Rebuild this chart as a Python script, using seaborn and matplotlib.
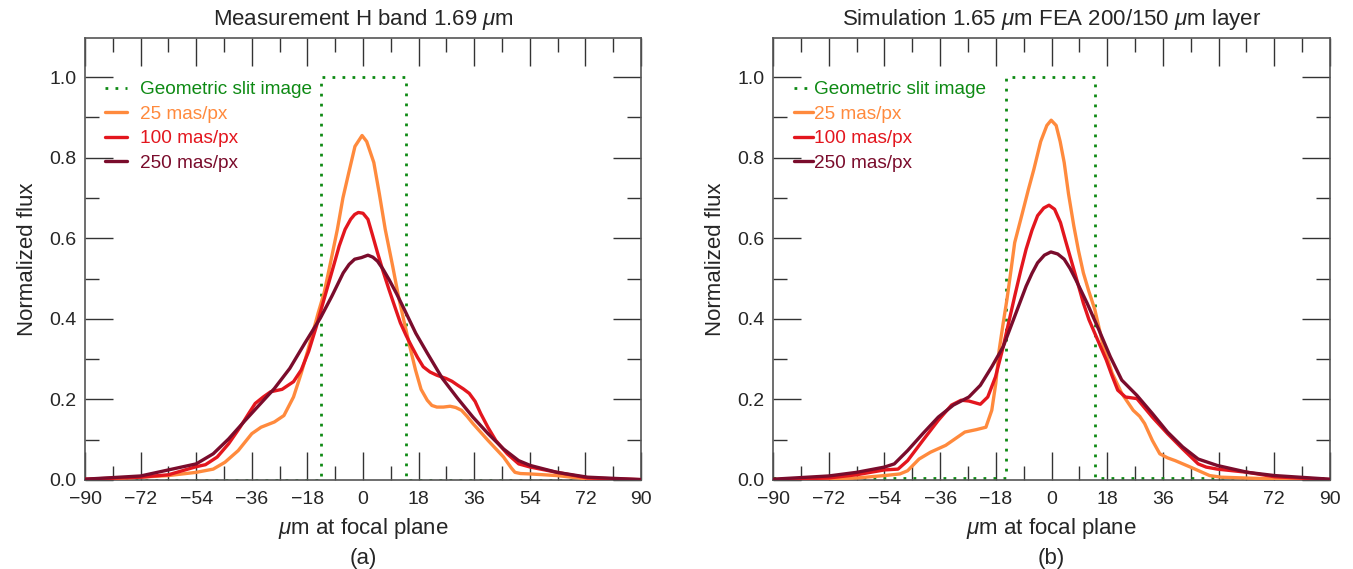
import numpy as np
import pandas as pd
import matplotlib
matplotlib.use("Agg")
import matplotlib.pyplot as plt
import seaborn as sns
from matplotlib.ticker import MultipleLocator

sns.set_style("ticks")
plt.rcParams['font.family'] = ['Liberation Sans', 'DejaVu Sans']
plt.rcParams['mathtext.fontset'] = 'custom'
plt.rcParams['mathtext.it'] = 'Liberation Sans:italic'
plt.rcParams['mathtext.rm'] = 'Liberation Sans'

# ---------------- data (panel a: measurement) ----------------
a_x25 = [-90, -72, -63, -54, -48.5, -44.7, -40.4, -36, -33, -28.7, -25.6, -22.5, -20, -18, -16.3, -14.5, -12.6, -10.5,
         -8.3, -6.5, -4.6, -2.6, -0.3, 1.2, 3.5, 5.3, 7.2, 9.6, 11.5, 13.4, 15.2, 17, 18.8, 20.8, 22.3, 23.9, 26,
         28.2, 30, 31.9, 33.7, 35.6, 40.5, 45.5, 48, 49.2, 51, 54.2, 62.8, 72.7, 90]
a_y25 = [0.0, 0.007, 0.011, 0.019, 0.027, 0.044, 0.073, 0.115, 0.131, 0.144, 0.16, 0.206, 0.265, 0.318, 0.364, 0.415,
         0.464, 0.54, 0.622, 0.70, 0.763, 0.828, 0.855, 0.84, 0.788, 0.71, 0.622, 0.531, 0.455, 0.39, 0.33, 0.273,
         0.225, 0.198, 0.185, 0.181, 0.181, 0.183, 0.18, 0.173, 0.158, 0.14, 0.098, 0.057, 0.03, 0.019, 0.016, 0.015,
         0.011, 0.0025, 0.0]
a_x100 = [-90, -72, -63, -54, -51, -47.2, -43.5, -39.8, -37, -34.9, -32.3, -29.9, -26.2, -22.5, -20, -17.6, -15.1,
          -13.3, -11.4, -9.5, -7.7, -5.8, -4, -2.7, -1.5, 0, 1.6, 3, 4.7, 6.5, 8.4, 10.3, 12.1, 14, 15.8, 17.6, 19.5,
          21.7, 23.9, 26.9, 28.8, 30.7, 32.5, 34.4, 36.3, 38.1, 40.5, 43, 46.7, 50.4, 54.2, 62.8, 72.7, 90]
a_y100 = [0.002, 0.007, 0.013, 0.033, 0.038, 0.057, 0.09, 0.131, 0.165, 0.19, 0.206, 0.219, 0.225, 0.244, 0.273, 0.319,
          0.381, 0.43, 0.481, 0.532, 0.581, 0.622, 0.647, 0.659, 0.664, 0.662, 0.647, 0.61, 0.564, 0.518, 0.473, 0.43,
          0.39, 0.358, 0.331, 0.305, 0.281, 0.268, 0.26, 0.252, 0.245, 0.235, 0.226, 0.215, 0.195, 0.165, 0.13, 0.098,
          0.065, 0.04, 0.032, 0.019, 0.005, 0.001]
a_x250 = [-90, -72, -63, -54, -48.5, -43.5, -38.6, -33.6, -28.7, -23.7, -18.8, -13.8, -10.1, -6.4, -4.5, -2.7, -0.5,
          1.6, 3.2, 4.7, 6.5, 8.4, 10.9, 13.4, 17.1, 20.8, 25.7, 30.7, 35.6, 40.5, 45.5, 50.4, 54.2, 62.8, 72.7, 90]
a_y250 = [0.002, 0.01, 0.025, 0.04, 0.065, 0.102, 0.144, 0.186, 0.227, 0.277, 0.34, 0.402, 0.456, 0.514, 0.535, 0.548,
          0.552, 0.558, 0.553, 0.543, 0.523, 0.498, 0.462, 0.423, 0.364, 0.315, 0.252, 0.202, 0.156, 0.115, 0.077,
          0.048, 0.036, 0.019, 0.007, 0.001]
a_slit_x = [-90, -13.75, -13.75, 13.9, 13.9, 90]
a_slit_y = [0.0, 0.0, 1.0, 1.0, 0.0, 0.0]

# ---------------- data (panel b: simulation) ----------------
b_x25 = [-90, -72, -63, -54, -49, -46.5, -42.8, -39.1, -34.2, -28, -24.3, -21.2, -19.3, -18, -16.9, -15.6, -14.4,
         -13.1, -11.9, -9.5, -7.5, -5.7, -3.5, -1.5, -0.1, 1.5, 2.8, 4.1, 5.5, 7.2, 8.7, 10.3, 12, 14, 16.5, 19.6,
         22.7, 26.4, 28.5, 30.1, 32.6, 35, 37.5, 40, 44.9, 51.1, 54.8, 72.1, 90]
b_y25 = [0.0, 0.0025, 0.005, 0.011, 0.015, 0.023, 0.052, 0.069, 0.086, 0.119, 0.125, 0.131, 0.173, 0.24, 0.323, 0.39,
         0.448, 0.52, 0.589, 0.66, 0.72, 0.771, 0.84, 0.88, 0.893, 0.88, 0.84, 0.788, 0.71, 0.631, 0.57, 0.514, 0.47,
         0.423, 0.34, 0.265, 0.215, 0.173, 0.158, 0.14, 0.098, 0.065, 0.055, 0.048, 0.032, 0.011, 0.007, 0.0025, 0.0]
b_x100 = [-90, -72, -63, -54, -49.6, -46.5, -41.6, -36.6, -32.3, -29.2, -26.7, -23, -20.6, -18.1, -15.6, -13.8,
          -11.9, -10, -8.2, -6.3, -4.5, -2.5, -0.8, 1, 2.9, 4.5, 6.6, 8.5, 10.3, 12.1, 14, 15.9, 17.7, 19.5, 21.4,
          23.9, 27.6, 30, 32.6, 37.5, 42.4, 47.4, 50, 53.6, 63.4, 72.1, 90]
b_y100 = [0.001, 0.005, 0.013, 0.025, 0.027, 0.048, 0.098, 0.148, 0.186, 0.198, 0.196, 0.188, 0.206, 0.256, 0.331,
          0.392, 0.456, 0.518, 0.573, 0.62, 0.656, 0.675, 0.682, 0.672, 0.639, 0.595, 0.539, 0.488, 0.439, 0.398,
          0.364, 0.33, 0.298, 0.26, 0.223, 0.206, 0.202, 0.18, 0.156, 0.115, 0.077, 0.04, 0.032, 0.027, 0.019,
          0.008, 0.001]
b_x250 = [-90, -72, -63, -54, -50.8, -46.5, -41.6, -36.6, -31.7, -26.7, -23, -19.3, -15.6, -11.9, -8.2, -6.3, -4.5,
          -2.3, -0.2, 2, 4.1, 6, 7.8, 11.5, 15.3, 19, 22.7, 27.6, 32.6, 37.5, 42.4, 47.4, 53.6, 63.4, 72.1, 90]
b_y250 = [0.002, 0.01, 0.019, 0.032, 0.04, 0.073, 0.115, 0.156, 0.186, 0.206, 0.235, 0.281, 0.331, 0.406, 0.481,
          0.513, 0.539, 0.558, 0.566, 0.561, 0.548, 0.525, 0.498, 0.439, 0.373, 0.306, 0.248, 0.21, 0.165, 0.119,
          0.082, 0.052, 0.036, 0.019, 0.011, 0.002]
b_slit_x = [-90, -14.8, -14.8, 14.1, 14.1, 90]
b_slit_y = [0.004, 0.004, 1.0, 1.0, 0.004, 0.004]

labels = ["25 mas/px", "100 mas/px", "250 mas/px"]
slit_label = "Geometric slit image"
titles = [r"Measurement H band 1.69 $\mu$m", r"Simulation 1.65 $\mu$m FEA 200/150 $\mu$m layer"]
panel_tags = ["(a)", "(b)"]
xticks = [-90, -72, -54, -36, -18, 0, 18, 36, 54, 72, 90]

colors = {"25 mas/px": "#FF8A3D", "100 mas/px": "#E3161E", "250 mas/px": "#7A0C2C"}
green = "#0E8A14"

def make_df(xs, ys):
    frames = []
    for lab, x, y in zip(labels, xs, ys):
        frames.append(pd.DataFrame({"x": x, "y": y, "series": lab}))
    return pd.concat(frames, ignore_index=True)

panels = [
    (make_df([a_x25, a_x100, a_x250], [a_y25, a_y100, a_y250]), a_slit_x, a_slit_y),
    (make_df([b_x25, b_x100, b_x250], [b_y25, b_y100, b_y250]), b_slit_x, b_slit_y),
]

fig = plt.figure(figsize=(13.53, 5.69), dpi=100)
W, H = 1353, 569
ax_boxes = [(85, 38, 641, 480), (773, 38, 1330, 480)]

for i, ((df, sx, sy), box) in enumerate(zip(panels, ax_boxes)):
    l, t, r, b = box
    ax = fig.add_axes([l / W, 1 - b / H, (r - l) / W, (b - t) / H])
    ax.plot(sx, sy, color=green, linestyle=(0, (1, 2.6)), linewidth=2.0, label=slit_label, zorder=2)
    sns.lineplot(data=df, x="x", y="y", hue="series", hue_order=labels, palette=colors,
                 linewidth=2.4, ax=ax, sort=False, legend=False, zorder=3)
    for ln in ax.lines[1:]:
        ln.set_solid_joinstyle("round")
    for lab in labels:
        ax.plot([], [], color=colors[lab], linewidth=2.4, label=lab)
    ax.set_xlim(-90, 90)
    ax.set_ylim(0, 1.097)
    ax.set_xticks(xticks)
    ax.xaxis.set_minor_locator(MultipleLocator(9))
    ax.set_yticks([0, 0.2, 0.4, 0.6, 0.8, 1.0])
    ax.set_yticklabels(["0.0", "0.2", "0.4", "0.6", "0.8", "1.0"])
    ax.yaxis.set_minor_locator(MultipleLocator(0.1))
    ax.tick_params(which="both", direction="in", top=True, right=True, color="#333333", width=1.0,
                   labelsize=14, pad=6)
    ax.tick_params(which="major", length=20)
    ax.tick_params(which="minor", length=10)
    ax.tick_params(axis="x", which="major", pad=8)
    for sp in ax.spines.values():
        sp.set_color("#555555")
        sp.set_linewidth(1.2)
    ax.set_title(titles[i], fontsize=16, pad=9)
    ax.set_xlabel(r"$\mu$m at focal plane", fontsize=16, labelpad=6)
    ax.set_ylabel("Normalized flux", fontsize=16, labelpad=8)
    ax.text(0.5, -0.178, panel_tags[i], transform=ax.transAxes, ha="center", va="center", fontsize=16)
    hl = 1.15 if i == 0 else 1.0
    htp = 0.7 if i == 0 else 0.05
    leg = ax.legend(loc="upper left", bbox_to_anchor=(0.036 if i == 0 else 0.038, 0.903), frameon=False,
                    fontsize=13.7, handlelength=hl, handletextpad=htp, labelspacing=0.38,
                    labelcolor="linecolor", borderaxespad=0.0, borderpad=0.0)
    ax.set_facecolor("white")

fig.savefig("out.png", dpi=100, facecolor="white")
